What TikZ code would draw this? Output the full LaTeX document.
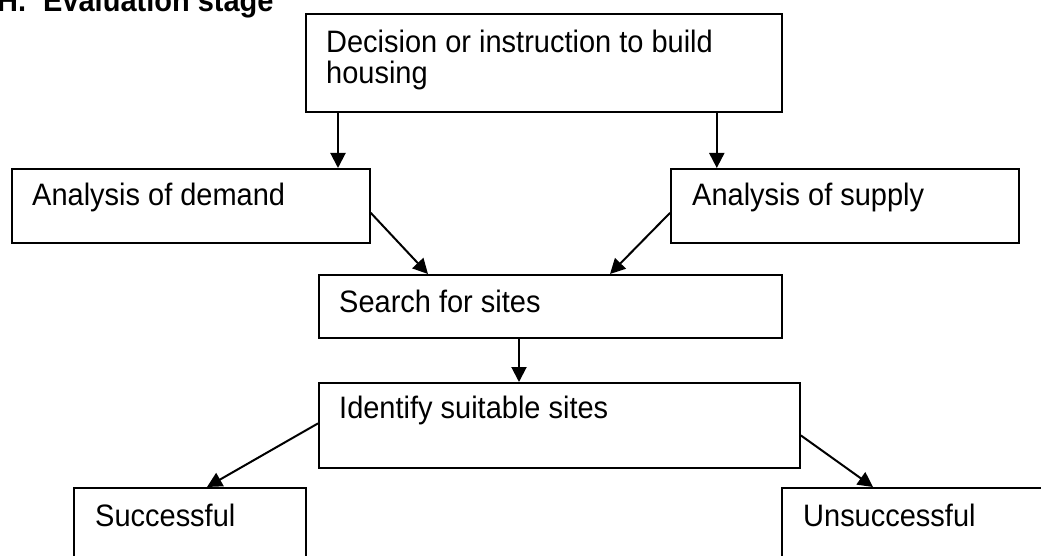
\documentclass[tikz,border=0pt]{standalone}
\usepackage{fontspec}
\setmainfont{Liberation Sans}[FakeStretch=0.935]
\usetikzlibrary{arrows.meta}
\begin{document}
\begin{tikzpicture}[x=1pt,y=-1pt,
  box/.style={draw, line width=1.8pt, anchor=north west, inner sep=0pt},
  txt/.style={inner sep=0pt, anchor=base west, font=\fontsize{31}{31}\selectfont},
  arr/.style={line width=2pt, -{Triangle[length=15pt,width=15pt]}}]
\useasboundingbox (0,0) rectangle (1041,556);
\clip (0,0) rectangle (1041,556);
% title
\node[txt, font=\bfseries\fontsize{31}{31}\selectfont] (title) at (-3,12) {H.\hspace{17pt}Evaluation stage};
% boxes
\node[box, minimum width=476pt, minimum height=98pt] (dec) at (305,13) {};
\node[box, minimum width=358pt, minimum height=74pt] (dem) at (11,168) {};
\node[box, minimum width=348pt, minimum height=74pt] (sup) at (670,168) {};
\node[box, minimum width=463pt, minimum height=63pt] (sea) at (318,274) {};
\node[box, minimum width=481pt, minimum height=85pt] (ide) at (318,382) {};
\node[box, minimum width=232pt, minimum height=100pt] (suc) at (73,487) {};
\node[box, minimum width=300pt, minimum height=100pt] (uns) at (781,487) {};
% texts
\node[txt, anchor=north west, align=left] (tdec) at ([shift={(21,17)}]dec.north west) {Decision or instruction to build\\housing};
\node[txt] (tdem) at ([shift={(21,37)}]dem.north west) {Analysis of demand};
\node[txt] (tsup) at ([shift={(22,37)}]sup.north west) {Analysis of supply};
\node[txt] (tsea) at ([shift={(21,38)}]sea.north west) {Search for sites};
\node[txt] (tide) at ([shift={(21,36)}]ide.north west) {Identify suitable sites};
\node[txt] (tsuc) at ([shift={(22,39)}]suc.north west) {Successful};
\node[txt] (tuns) at ([shift={(22,39)}]uns.north west) {Unsuccessful};
% connectors
\draw[arr] ([xshift=33pt]dec.south west) -- ([xshift=33pt]dec.south west |- dem.north);
\draw[arr] ([xshift=-66pt]dec.south east) -- ([xshift=-66pt]dec.south east |- sup.north);
\draw[arr] ([yshift=-7pt]dem.east) -- ([xshift=110pt]sea.north west);
\draw[arr] ([yshift=-7pt]sup.west) -- ([xshift=292pt]sea.north west);
\draw[arr] ([xshift=201pt]sea.south west) -- ([xshift=201pt]sea.south west |- ide.north);
\draw[arr] ([yshift=2pt]ide.west) -- ([xshift=134pt]suc.north west);
\draw[arr] ([yshift=-10pt]ide.east) -- ([xshift=92pt]uns.north west);
\end{tikzpicture}
\end{document}
